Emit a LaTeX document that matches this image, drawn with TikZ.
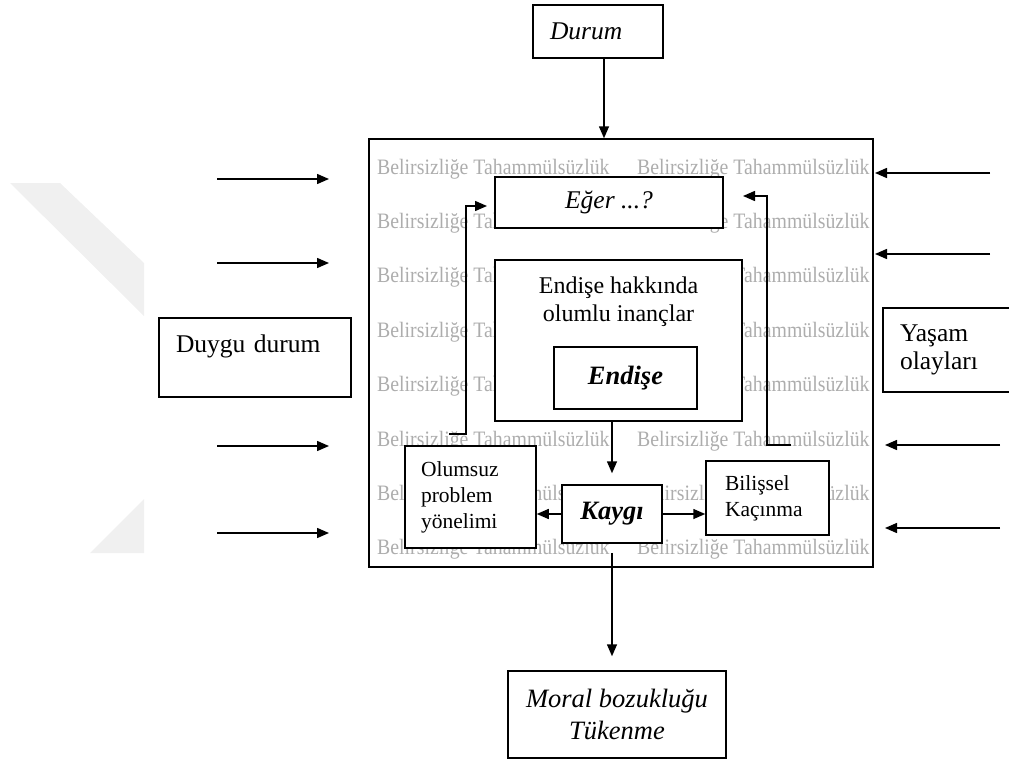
\documentclass[tikz,border=0pt]{standalone}
\usepackage{fontspec}
\usepackage{graphicx}
\setmainfont{Liberation Serif}
\usetikzlibrary{arrows.meta,calc}
\newcommand\szmain{\fontsize{25.5}{28}\selectfont}
\newcommand\szendh{\fontsize{24}{28.6}\selectfont}
\newcommand\szsmall{\fontsize{21.5}{26}\selectfont}
\newcommand\szbold{\fontsize{26.5}{30}\selectfont}
\newcommand\szmoral{\fontsize{26.5}{32}\selectfont}
\newcommand\szwm{\fontsize{22}{22}\selectfont}
\newcommand\wmtext{\scalebox{0.9}[1]{Belirsizliğe Tahammülsüzlük}}
\begin{document}
\begin{tikzpicture}[x=1pt,y=-1pt,
  box/.style={draw, line width=1.5pt, fill=white, inner sep=0pt},
  arr/.style={line width=1.5pt, -{Triangle[length=12pt,width=10pt]}},
  wm/.style={text=black!32, font=\szwm, anchor=base west, inner sep=0pt}]
\useasboundingbox (0,0) rectangle (1009,760);
% faint background watermark shapes
\fill[black!6] (10,183) -- (60,183) -- (144,263) -- (144,316) -- cycle;
\fill[black!6] (90,553) -- (144,499) -- (144,553) -- cycle;
% main frame
\node[draw, line width=1.5pt, minimum width=504pt, minimum height=428pt, inner sep=0pt] (main) at (621,353) {};
% watermark text rows
\foreach \i in {0,...,7} {
  \node[wm] (wa\i) at (377,{174+54.4*\i}) {\wmtext};
  \node[wm] (wb\i) at (637,{174+54.4*\i}) {\wmtext};
}
% boxes
\node[box, text width=96pt, inner xsep=17pt, minimum height=53pt, align=left, font=\itshape\szmain] (durum) at (598,31.5) {Durum};
\node[box, minimum width=228pt, minimum height=51pt, font=\itshape\szmain] (eger) at (609,202.5) {Eğer ...?};
\node[box, minimum width=247pt, minimum height=161pt] (endh) at (618.5,340.5) {};
\node[anchor=north, align=center, font=\szendh, inner sep=0pt] (endht) at (618.5,276.5) {Endişe hakkında\\olumlu inançlar};
\node[box, minimum width=143pt, minimum height=62pt, font=\bfseries\itshape\szbold] (endise) at (625.5,378) {Endişe};
\node[box, minimum width=100pt, minimum height=58pt, font=\bfseries\itshape\szbold] (kaygi) at (612,514) {Kaygı};
\node[box, text width=99pt, inner xsep=16pt, minimum height=102pt, align=left, font=\szsmall] (olum) at (470.5,497) {Olumsuz\\problem\\yönelimi};
\node[box, text width=85pt, inner xsep=19pt, minimum height=74pt, align=left, font=\szsmall] (bilis) at (767.5,498) {Bilişsel\\Kaçınma};
\node[box, minimum width=218pt, minimum height=87pt, align=center, font=\itshape\szmoral] (moral) at (617,714.5) {Moral bozukluğu\\Tükenme};
\node[box, text width=98pt, inner xsep=17pt, minimum height=84pt, align=left, font=\szmain] (yasam) at (949,350) {Yaşam\\olayları};
\node[box, text width=158pt, inner xsep=17pt, minimum height=79pt, align=left, font=\szmain] (duygu) at (255,357.5) {Duygu durum\\\mbox{}};
% connectors
\draw[arr] ([xshift=6pt]durum.south) -- ([xshift=6pt]durum.south |- main.north);
\draw[arr, shorten >=11pt] (kaygi.north |- endh.south) -- (kaygi.north);
\draw[arr] (kaygi.west) -- (olum.east |- kaygi.west);
\draw[arr] (kaygi.east) -- (bilis.west |- kaygi.east);
\draw[arr, shorten <=9pt, shorten >=14pt] (kaygi.south) -- (kaygi.south |- moral.north);
% feedback loops
\coordinate (fl0) at (449,434);
\coordinate (fl1) at (487,206);
\draw[arr] (fl0) -- ++(17,0) |- (fl1);
\coordinate (fr0) at (791,445);
\coordinate (fr1) at (743,196);
\draw[arr] (fr0) -- ++(-24,0) |- (fr1);
% outside arrows, left
\foreach \y [count=\k] in {179,263,446,533} {
  \coordinate (ls\k) at (217,\y);
  \coordinate (le\k) at (329,\y);
  \draw[arr] (ls\k) -- (le\k);
}
% outside arrows, right
\coordinate (rs1) at (990,173); \coordinate (re1) at (875,173);
\coordinate (rs2) at (990,254); \coordinate (re2) at (875,254);
\coordinate (rs3) at (1000,445); \coordinate (re3) at (885,445);
\coordinate (rs4) at (1000,528); \coordinate (re4) at (885,528);
\foreach \k in {1,...,4} { \draw[arr] (rs\k) -- (re\k); }
\end{tikzpicture}
\end{document}
